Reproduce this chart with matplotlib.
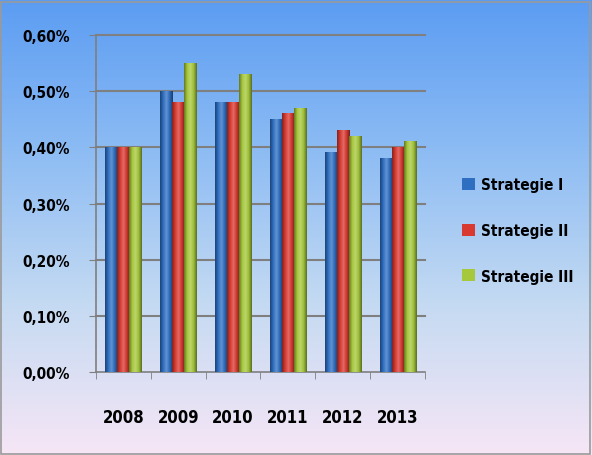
import numpy as np
import matplotlib.pyplot as plt
from matplotlib.colors import LinearSegmentedColormap, to_rgb
from matplotlib.patches import Rectangle

years = ['2008', '2009', '2010', '2011', '2012', '2013']
strat_1 = [0.40, 0.50, 0.48, 0.45, 0.39, 0.38]
strat_2 = [0.40, 0.48, 0.48, 0.46, 0.43, 0.40]
strat_3 = [0.40, 0.55, 0.53, 0.47, 0.42, 0.41]
series_names = ['Strategie I', 'Strategie II', 'Strategie III']
colors = ['#2f6fc2', '#d83a32', '#a6c83c']
yticks = [0.0, 0.1, 0.2, 0.3, 0.4, 0.5, 0.6]

font = ['DejaVu Sans']


def shade(c, f):
    r = np.array(to_rgb(c))
    if f < 1:
        return tuple(r * f)
    return tuple(r + (1 - r) * (f - 1))


fig = plt.figure(figsize=(5.92, 4.56), dpi=100)

# background gradient
bg = fig.add_axes([0, 0, 1, 1], zorder=0)
cmap = LinearSegmentedColormap.from_list('bg', ['#5b9cf2', '#8dbcf4', '#c4daf2', '#f6e6f6'])
grad = np.linspace(0, 1, 256).reshape(-1, 1)
bg.imshow(grad, aspect='auto', cmap=cmap, extent=[0, 1, 0, 1])
bg.add_patch(Rectangle((0.002, 0.003), 0.995, 0.99, fill=False, edgecolor='#9a9a9a', lw=1.2))
bg.set_xlim(0, 1)
bg.set_ylim(0, 1)
bg.axis('off')

ax = fig.add_axes([0.162, 0.182, 0.556, 0.739], zorder=1)
ax.patch.set_alpha(0)

x = np.arange(len(years))
w = 0.22
hgrad = np.linspace(0, 1, 64).reshape(1, -1)
for i, vals in enumerate([strat_1, strat_2, strat_3]):
    bars = ax.bar(x + (i - 1) * w, vals, w, color=colors[i], edgecolor='none',
                  label=series_names[i], zorder=3)
    cyl = LinearSegmentedColormap.from_list(
        'c%d' % i, [shade(colors[i], 0.6), shade(colors[i], 1.0), shade(colors[i], 1.25),
                    shade(colors[i], 0.95), shade(colors[i], 0.55)])
    for b in bars:
        bx, bw, bh = b.get_x(), b.get_width(), b.get_height()
        ax.imshow(hgrad, aspect='auto', cmap=cyl, extent=[bx, bx + bw, 0, bh], zorder=4)

ax.set_xlim(-0.5, len(years) - 0.5)
ax.set_ylim(0, 0.6)
ax.set_aspect('auto')
ax.set_yticks(yticks)
ax.set_yticklabels([f'{v:.2f}%'.replace('.', ',') for v in yticks],
                   fontsize=11, fontweight='bold', family=font, stretch='condensed')
ax.set_xticks(x)
ax.set_xticklabels(years, fontsize=12, fontweight='bold', family=font, stretch='condensed')
ax.set_xticks(np.arange(-0.5, len(years)), minor=True)
ax.tick_params(axis='x', which='major', length=0, pad=26)
ax.tick_params(axis='x', which='minor', length=5, color='#7f7f7f')
ax.tick_params(axis='y', length=5, color='#7f7f7f', pad=14)
for v in yticks[1:]:
    ax.axhline(v, color='#7f7f7f', lw=1.5, zorder=0, clip_on=False)
for s in ['top', 'right']:
    ax.spines[s].set_visible(False)
for s in ['left', 'bottom']:
    ax.spines[s].set_color('#7f7f7f')
    ax.spines[s].set_linewidth(1.2)

leg = ax.legend(loc='center left', bbox_to_anchor=(1.07, 0.42), frameon=False,
                prop={'family': font, 'weight': 'bold', 'size': 11, 'stretch': 'condensed'},
                handlelength=0.85, handleheight=0.85, handletextpad=0.4,
                labelspacing=2.0)

fig.savefig('out.png', dpi=100)
